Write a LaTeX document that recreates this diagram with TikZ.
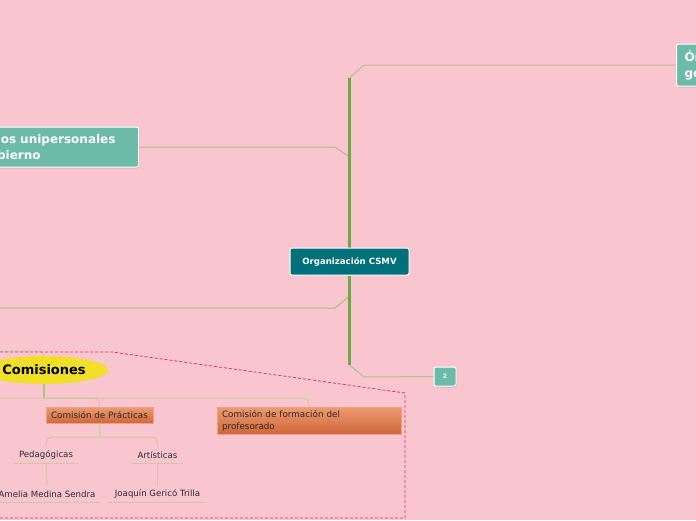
\documentclass[tikz,border=0pt]{standalone}
\usepackage{fontspec}
\setmainfont{DejaVu Sans}
\usetikzlibrary{shapes.geometric,shadows}
\definecolor{bgc}{HTML}{F9C6D0}
\definecolor{teal1}{HTML}{00717B}
\definecolor{green1}{HTML}{6BBBA7}
\definecolor{trunkc}{HTML}{6EA944}
\definecolor{tanc}{HTML}{C4AE9C}
\definecolor{olivec}{HTML}{B6BE8C}
\definecolor{leafc}{HTML}{9EC46C}
\definecolor{subc}{HTML}{CACC98}
\definecolor{subg}{HTML}{A6C87C}
\definecolor{or1}{HTML}{EE9B70}
\definecolor{or2}{HTML}{CF673B}
\definecolor{or3}{HTML}{F0A080}
\definecolor{txt}{HTML}{2A2A2A}
\definecolor{dashc}{HTML}{E22E66}
\definecolor{yel}{HTML}{F0DE28}
\pgfdeclarelayer{back}
\pgfdeclarelayer{lines}
\pgfsetlayers{back,lines,main}
\begin{document}
\begin{tikzpicture}[x=1pt,y=-1pt,
  central/.style={draw=white, line width=1pt, fill=teal1, rounded corners=2pt, text=white,
    font=\bfseries\fontsize{8.6}{10}\selectfont, minimum width=119pt, minimum height=27pt, inner sep=0pt},
  greenbox/.style={draw=white, line width=1pt, fill=green1, rounded corners=2pt, text=white,
    font=\bfseries\fontsize{12}{16}\selectfont, align=left, inner xsep=8pt, inner ysep=0pt,
    drop shadow={shadow xshift=1pt, shadow yshift=-1.5pt, opacity=0.25}},
  orangebox/.style={top color=or1, bottom color=or2, draw=or3, line width=0.5pt, text=txt,
    font=\fontsize{8.8}{12}\selectfont, inner sep=0pt},
  leaf/.style={text=txt, font=\fontsize{8.6}{10}\selectfont, inner sep=0pt, minimum height=16pt},
  trunk/.style={draw=trunkc, line width=3pt},
  branch/.style={line width=1pt},
  subl/.style={draw=subc, line width=1pt},
  ul/.style={draw=subc, line width=1pt}
]
\begin{pgfonlayer}{back}
\fill[bgc] (0,0) rectangle (696,520);
\end{pgfonlayer}
\useasboundingbox (0,0) rectangle (696,520);

% main nodes
\node[central] (c) at (349.5,261.5) {Organización CSMV};
\node[greenbox, anchor=east, minimum width=187pt, minimum height=40pt, text width=171pt] (uni) at (139,147)
  {Órganos unipersonales\\de gobierno};
\node[greenbox, anchor=west, minimum width=220pt, minimum height=42pt, text width=204pt] (col) at (676,65)
  {Órganos colegiados de\\gobierno};
\node[draw=white, line width=1pt, fill=green1, rounded corners=2pt, text=white,
  font=\bfseries\fontsize{6}{7}\selectfont, minimum width=22pt, minimum height=19pt, inner sep=0pt,
  drop shadow={shadow xshift=1pt, shadow yshift=-1.5pt, opacity=0.25}] (two) at (445,376.5) {2};

\coordinate (ttop) at (349.5,78);
\coordinate (tbot) at (349.5,365);
\coordinate (j1) at (349.5,157);
\coordinate (j2) at (349.5,296);
\coordinate (lfree) at (0,308);

\begin{pgfonlayer}{lines}
\draw[branch, draw=olivec] (ttop) -- (364,65) -- (col.west);
\draw[branch, draw=olivec] (tbot) -- (364,377) -- (two.west);
\draw[branch, draw=tanc] (j1) -- (335,147) -- (uni.east);
\draw[branch, draw=leafc] (j2) -- (335,308) -- (lfree);
\draw[trunk] (c.north) -- (ttop);
\draw[trunk] (c.south) -- (tbot);
\end{pgfonlayer}

% dashed boundary
\coordinate (d1) at (0,352);
\coordinate (d2) at (112,352);
\coordinate (d3) at (405,393);
\coordinate (d4) at (405,518);
\coordinate (d5) at (0,518);
\draw[dashc, line width=0.8pt, dash pattern=on 3pt off 2pt] (d1) -- (d2) -- (d3) -- (d4) -- (d5);

% Comisiones subtree
\node[ellipse, fill=yel, minimum width=128pt, minimum height=28pt, inner sep=0pt,
  font=\bfseries\fontsize{13}{14}\selectfont, text=black] (com) at (44,370) {Comisiones};
\node[orangebox, minimum width=107pt, minimum height=16pt] (cp) at (99.5,415) {Comisión de Prácticas};
\node[orangebox, minimum width=184pt, minimum height=27pt, text width=174pt, align=left] (cf) at (309,420.5)
  {Comisión de formación del\\profesorado};
\node[leaf, minimum width=64pt] (ped) at (46,455) {Pedagógicas};
\node[leaf, minimum width=51pt] (art) at (157.5,455) {Artísticas};
\node[leaf, minimum width=106pt] (ame) at (47,494) {Amelia Medina Sendra};
\node[leaf, minimum width=99pt] (joa) at (157.5,494) {Joaquín Gericó Trilla};

\coordinate (cin) at (0,351);
\coordinate (hub) at (44,398);
\coordinate (hl) at (0,398);
\coordinate (hub2) at (100,437);

\begin{pgfonlayer}{lines}
\draw[subl] (cin) -- (34,351) .. controls (41,351) and (43,352) .. (com.north);
\draw[draw=subg, line width=1.5pt] (com.south) -- (hub);
\draw[subl] (hl) -- (92,398) .. controls (98,398) and (100,400) .. (cp.north);
\draw[subl] (hub) -- (300,398) .. controls (307,398) and (309,400) .. (cf.north);
\draw[subl] (cp.south) -- (hub2);
\draw[subl] (hub2) -- (55,437) .. controls (48,437) and (46,439) .. (ped.north);
\draw[subl] (hub2) -- (149,437) .. controls (156,437) and (157.5,439) .. (art.north);
\draw[subl] (ped.south) -- (ame.north);
\draw[subl] (art.south) -- (joa.north);
\draw[ul] (ped.south west) -- (ped.south east);
\draw[ul] (art.south west) -- (art.south east);
\draw[ul] (ame.south west) -- (ame.south east);
\draw[ul] (joa.south west) -- (joa.south east);
\end{pgfonlayer}
\end{tikzpicture}
\end{document}
